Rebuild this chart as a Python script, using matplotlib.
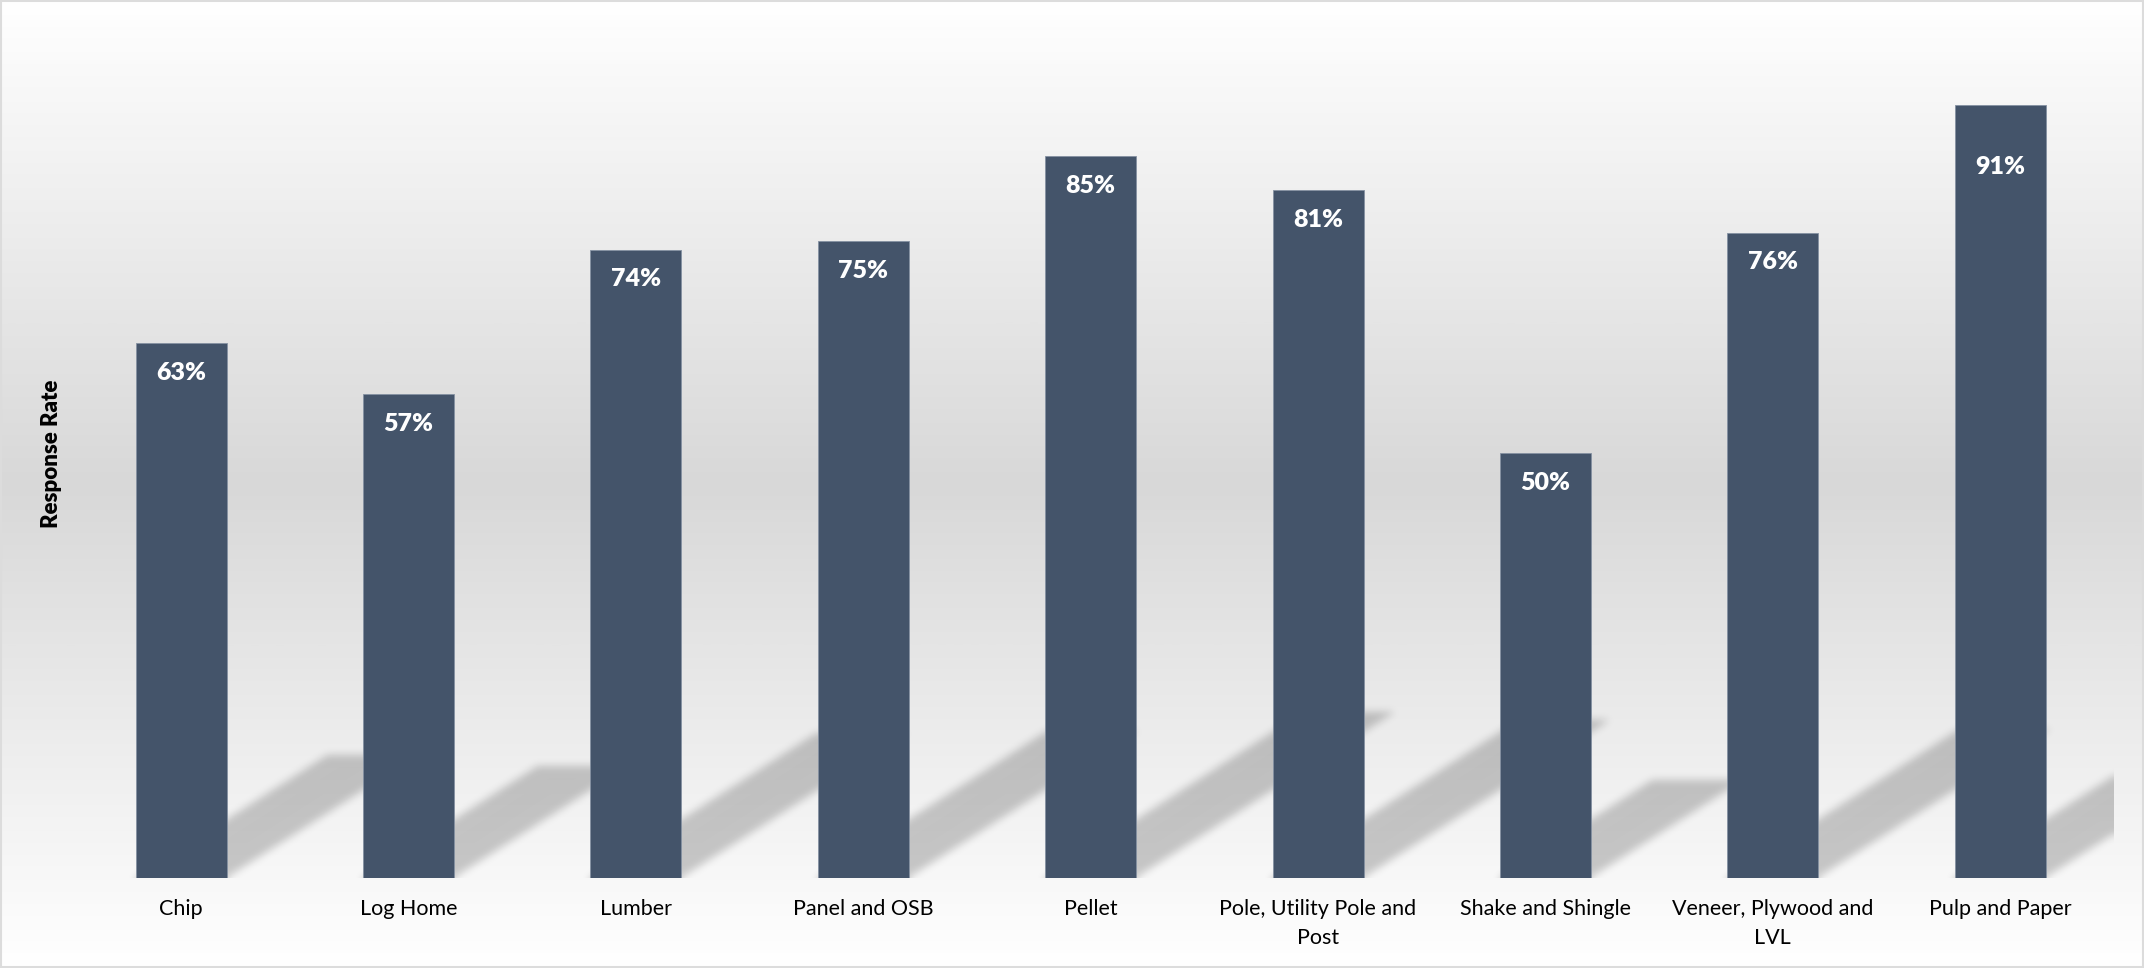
import numpy as np
import matplotlib
matplotlib.use("Agg")
import matplotlib.pyplot as plt
from matplotlib.colors import LinearSegmentedColormap
from matplotlib.patches import Rectangle

CATEGORIES = ["Chip", "Log Home", "Lumber", "Panel and OSB", "Pellet",
              "Pole, Utility Pole and\nPost", "Shake and Shingle",
              "Veneer, Plywood and\nLVL", "Pulp and Paper"]
RESPONSE_RATE = [63, 57, 74, 75, 85, 81, 50, 76, 91]

BAR_COLOR = "#44546A"
FONT = ["Lato", "DejaVu Sans"]

plt.rcParams["font.family"] = FONT

W, H, DPI = 2144, 968, 100
fig = plt.figure(figsize=(W / DPI, H / DPI), dpi=DPI)

# background: white -> grey -> white vertical gradient
bg = fig.add_axes([0, 0, 1, 1], zorder=-10)
grad_cmap = LinearSegmentedColormap.from_list(
    "bg", [(0.0, "#ffffff"), (0.5, "#d8d8d8"), (1.0, "#ffffff")])
bg.imshow(np.linspace(0, 1, 512).reshape(-1, 1), cmap=grad_cmap,
          aspect="auto", extent=(0, 1, 0, 1), origin="upper")
bg.set_xlim(0, 1)
bg.set_ylim(0, 1)
bg.axis("off")
bg.add_patch(Rectangle((0.0005, 0.001), 0.999, 0.998, transform=bg.transAxes,
                       fill=False, edgecolor="#dcdcdc", lw=1.5))

ax = fig.add_axes([0.0314, 0.093, 0.9546, 0.8773])
ax.set_facecolor("none")

x = np.arange(len(CATEGORIES))
values = np.array(RESPONSE_RATE) / 100
bar_w = 0.4
xlim = (-0.5, len(CATEGORIES) - 0.5)
ylim = (0, 1)

# perspective shadows: each bar sheared up and to the right, then blurred
nx, ny = 2047, 849
gx = np.linspace(xlim[0], xlim[1], nx)
gy = np.linspace(ylim[0], ylim[1], ny)
XX, YY = np.meshgrid(gx, gy)
mask = np.zeros_like(XX)
for xi, v in zip(x, values):
    rise = 0.23 * v
    shift = 1.343 * v
    xs = XX - shift * YY / rise
    inside = (YY >= 0) & (YY <= rise) & (xs >= xi - bar_w / 2) & (xs <= xi + bar_w / 2)
    mask[inside] = 1.0

sigma = 4.0
r = int(3 * sigma)
k = np.exp(-0.5 * (np.arange(-r, r + 1) / sigma) ** 2)
k /= k.sum()
padded = np.pad(mask, r, mode="edge")
tmp = np.zeros_like(padded)
for i, w in enumerate(k):
    tmp += w * np.roll(padded, i - r, axis=1)
blur = np.zeros_like(padded)
for i, w in enumerate(k):
    blur += w * np.roll(tmp, i - r, axis=0)
blur = blur[r:-r, r:-r]

shadow = np.zeros((ny, nx, 4))
shadow[..., 3] = 0.2 * blur
ax.imshow(shadow, extent=(xlim[0], xlim[1], ylim[0], ylim[1]), origin="lower",
          aspect="auto", zorder=1, interpolation="bilinear")

ax.bar(x, values, width=bar_w, color=BAR_COLOR, edgecolor="#8591a2",
       linewidth=0.6, zorder=3)

for xi, v, cat in zip(x, values, CATEGORIES):
    drop = -44.6 if cat == "Pulp and Paper" else -21.5
    ax.annotate(f"{round(v * 100)}%", (xi, v), xytext=(0, drop),
                textcoords="offset points", ha="center", va="center",
                color="white", fontsize=18, fontweight="heavy", zorder=4)

ax.set_xlim(*xlim)
ax.set_ylim(*ylim)
ax.set_xticks(x)
ax.set_xticklabels(CATEGORIES, fontsize=15.5, linespacing=1.55)
ax.tick_params(axis="x", length=0, pad=15)
ax.set_yticks([])
for s in ax.spines.values():
    s.set_visible(False)

fig.text(0.0238, 0.5317, "Response Rate", rotation=90, ha="center", va="center",
         fontsize=16, fontweight="heavy")

fig.savefig("out.png", dpi=DPI)
